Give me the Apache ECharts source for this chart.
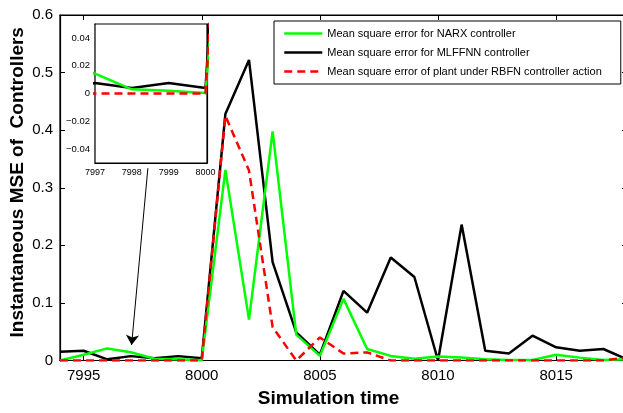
<!DOCTYPE html>
<html><head><meta charset="utf-8">
<script src="https://cdn.jsdelivr.net/npm/echarts@6/dist/echarts.min.js"></script>
<style>html,body{margin:0;padding:0;overflow:hidden;background:#fff}#c{width:627px;height:413px}</style>
</head><body><div id="c"></div>
<script>
// ---- data ----
const times = [7994,7995,7996,7997,7998,7999,8000,8001,8002,8003,8004,8005,8006,8007,8008,8009,8010,8011,8012,8013,8014,8015,8016,8017,8018];
const narx   = [0,0.010,0.021,0.0143,0.003,0.002,0.0003,0.331,0.071,0.398,0.045,0.008,0.107,0.020,0.008,0.003,0.007,0.005,0.002,0.001,0.001,0.010,0.005,0.001,0.002];
const mlffnn = [0.015,0.017,0.002,0.0076,0.004,0.0076,0.004,0.428,0.522,0.171,0.049,0.010,0.121,0.083,0.179,0.145,0.000,0.236,0.017,0.012,0.043,0.023,0.017,0.020,0.002];
const rbfn   = [0,0,0,0,0,0,0,0.425,0.330,0.058,0,0.040,0.012,0.014,0,0,0,0,0,0,0,0,0,0,0.005];
const seriesNames = ['Mean square error for NARX controller','Mean square error for MLFFNN controller','Mean square error of plant under RBFN controller action'];
const xTicks = [7995,8000,8005,8010,8015];
const insetXTicks = [7997,7998,7999,8000];
const insetYTicks = [-0.04,-0.02,0,0.02,0.04];
const arrowFrom = [7997.72, 0.334];
const arrowTo = [7997.03, 0.027];
const xTitle = 'Simulation time';
const yTitle = 'Instantaneous MSE of  Controllers';

const pts = a => times.map((t,i)=>[t,a[i]]);
const FONT = "'Liberation Sans', Arial, sans-serif";
const GREEN='#00ff00', BLACK='#000000', RED='#ff0000';

function xAx(grid, pos, min, max, ticks, showLabel, fs){
  return {type:'value', gridIndex:grid, position:pos, min:min, max:max,
    axisLine:{show:true,onZero:false,lineStyle:{color:'#000',width:1.2}},
    axisTick:{show:true,inside:true,length:5,customValues:ticks,lineStyle:{color:'#000'}},
    axisLabel:{show:showLabel,customValues:ticks,color:'#000',fontFamily:FONT,fontSize:fs,margin:8,
      formatter:v=>String(v)},
    splitLine:{show:false}};
}
function yAx(grid, pos, min, max, extra){
  return Object.assign({type:'value', gridIndex:grid, position:pos, min:min, max:max,
    axisLine:{show:true,onZero:false,lineStyle:{color:'#000',width:1.2}},
    axisTick:{show:true,inside:true,length:5,lineStyle:{color:'#000'}},
    axisLabel:{show:false},
    splitLine:{show:false}}, extra||{});
}
const chart = echarts.init(document.getElementById('c'));
const lineS = (name, data, color, xi, yi, dashed, z) => ({
  name:name, type:'line', data:data, xAxisIndex:xi, yAxisIndex:yi, symbol:'none', clip:true,
  z:z, lineStyle:{color:color,width:2.5,type:dashed?[8,5]:'solid'}, itemStyle:{color:color}, animation:false});

const xMain = xAx(0,'bottom',7994,8018,xTicks,true,15);
xMain.name = xTitle; xMain.nameLocation='middle'; xMain.nameGap=29; xMain.nameMoveOverlap=false;
xMain.nameTextStyle={fontFamily:FONT,fontSize:19,fontWeight:'bold',color:'#000',padding:[0,30,0,0]};

const yMain = yAx(0,'left',0,0.6,{interval:0.1,
  axisLabel:{show:true,color:'#000',fontFamily:FONT,fontSize:15,margin:7},
  name:yTitle,nameLocation:'middle',nameGap:33,nameRotate:90,nameMoveOverlap:false,
  nameTextStyle:{fontFamily:FONT,fontSize:19,fontWeight:'bold',color:'#000',padding:[0,0,0,11]}});

const insetX = xAx(1,'bottom',7997,8000.04,insetXTicks,true,9);
insetX.axisLabel.margin=5; insetX.axisTick.length=3;
const insetXTop = xAx(1,'top',7997,8000.04,insetXTicks,false,9); insetXTop.axisTick.length=3;
const insetY = yAx(1,'left',-0.05,0.05,{
  axisTick:{show:true,inside:true,length:3,customValues:insetYTicks,lineStyle:{color:'#000'}},
  axisLabel:{show:true,customValues:insetYTicks,color:'#000',fontFamily:FONT,fontSize:9.5,margin:5,
    formatter:v=> v<0 ? '\u2212'+Math.abs(v) : String(v)}});
const insetYR = yAx(1,'right',-0.05,0.05,{
  axisTick:{show:true,inside:true,length:3,customValues:insetYTicks,lineStyle:{color:'#000'}}});

const blackMain = lineS(seriesNames[1], pts(mlffnn), BLACK, 0, 0, false, 2);
blackMain.markLine = {silent:true, symbol:['none','arrow'], symbolSize:10, animation:false,
  label:{show:false}, lineStyle:{color:'#000',width:1,type:'solid'},
  data:[[{coord:arrowFrom},{coord:arrowTo}]]};

chart.setOption({
  animation:false,
  backgroundColor:'#fff',
  textStyle:{fontFamily:FONT},
  grid:[
    {left:60,right:0,top:15,bottom:52.5,outerBoundsMode:'none',containLabel:false,
     show:true,borderColor:'#000',borderWidth:1.2,backgroundColor:'transparent'},
    {left:95,top:24,width:112,height:139,outerBoundsMode:'none',containLabel:false,
     show:true,backgroundColor:'#fff',borderColor:'#000',borderWidth:1.2,z:5}
  ],
  legend:{data:seriesNames, orient:'vertical', left:274, top:21, padding:[6,19,6,9],
    backgroundColor:'#fff', borderColor:'#000', borderWidth:1, itemWidth:38, itemHeight:13, itemGap:6,
    itemStyle:{opacity:0}, lineStyle:{width:2.5},
    textStyle:{fontFamily:FONT,fontSize:11,color:'#000',lineHeight:13}, selectedMode:false, z:10},
  xAxis:[xMain, xAx(0,'top',7994,8018,xTicks,false,15), insetX, insetXTop],
  yAxis:[yMain, yAx(0,'right',0,0.6,{interval:0.1}), insetY, insetYR],
  series:[
    blackMain,
    lineS(seriesNames[0], pts(narx), GREEN, 0, 0, false, 3),
    lineS(seriesNames[2], pts(rbfn), RED, 0, 0, true, 4),
    lineS(seriesNames[1], pts(mlffnn), BLACK, 2, 2, false, 6),
    lineS(seriesNames[0], pts(narx), GREEN, 2, 2, false, 7),
    lineS(seriesNames[2], pts(rbfn), RED, 2, 2, true, 8)
  ]
});
</script></body></html>
